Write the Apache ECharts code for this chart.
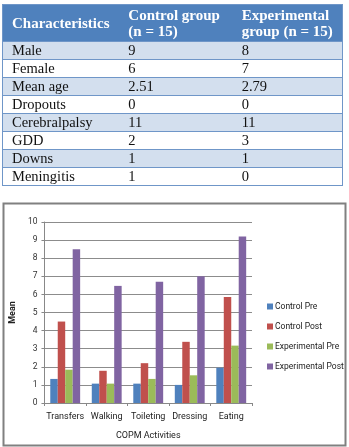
<!DOCTYPE html>
<html>
<head>
<meta charset="utf-8">
<script src="https://cdn.jsdelivr.net/npm/echarts@6/dist/echarts.min.js"></script>
<style>
  html, body { margin:0; padding:0; background:#fff; }
  #chart { position:absolute; left:0; top:0; width:349px; height:447px; }
  #tbl { position:absolute; left:2px; top:4px; width:341px; border-collapse:collapse;
         font-family:"Liberation Serif","Times New Roman",serif; font-size:14.5px; color:#111;
         border:1px solid #6f96c8; }
  #tbl th { background:#4f81bd; color:#fff; font-weight:bold; text-align:left; vertical-align:middle;
            font-size:15px; line-height:16px; padding:2px 0 2px 9px; height:32px; }
  #tbl td { height:17px; line-height:17px; padding:0 0 0 9px; border-top:1px solid #6f96c8; }
  #tbl tr.odd td { background:#d3dfee; }
</style>
</head>
<body>
<div id="chart"></div>
<table id="tbl"></table>
<script>
// Table data
var tableHeader = ["Characteristics", "Control group<br>(n = 15)", "Experimental<br>group (n = 15)"];
var tableRows = ["Male", "Female", "Mean age", "Dropouts", "Cerebralpalsy", "GDD", "Downs", "Meningitis"];
var controlGroup = ["9", "6", "2.51", "0", "11", "2", "1", "1"];
var experimentalGroup = ["8", "7", "2.79", "0", "11", "3", "1", "0"];

// Chart data
var categories = ["Transfers", "Walking", "Toileting", "Dressing", "Eating"];
var controlPre = [1.33, 1.07, 1.07, 1.0, 1.95];
var controlPost = [4.5, 1.78, 2.2, 3.38, 5.85];
var experimentalPre = [1.84, 1.07, 1.33, 1.53, 3.17];
var experimentalPost = [8.5, 6.47, 6.7, 7.0, 9.2];
var seriesNames = ["Control Pre", "Control Post", "Experimental Pre", "Experimental Post"];
var yTicks = [0, 1, 2, 3, 4, 5, 6, 7, 8, 9, 10];

// Build table
var tbl = document.getElementById('tbl');
var html = '<colgroup><col style="width:117px"><col style="width:114px"><col style="width:110px"></colgroup>';
html += '<tr>' + tableHeader.map(function(h){ return '<th>' + h + '</th>'; }).join('') + '</tr>';
for (var i = 0; i < tableRows.length; i++) {
  html += '<tr class="' + (i % 2 === 0 ? 'odd' : 'even') + '"><td>' + tableRows[i] + '</td><td>' +
          controlGroup[i] + '</td><td>' + experimentalGroup[i] + '</td></tr>';
}
tbl.innerHTML = html;

var chart = echarts.init(document.getElementById('chart'), null, {renderer: 'canvas'});
var colors = ['#4f81bd', '#c0504d', '#9bbb59', '#8064a2'];
var dataSets = [controlPre, controlPost, experimentalPre, experimentalPost];
var fontFam = 'Roboto, "Open Sans", sans-serif';

chart.setOption({
  animation: false,
  color: colors,
  graphic: [{
    type: 'rect', shape: { x: 3.5, y: 203.5, width: 342, height: 242 },
    style: { fill: 'none', stroke: '#808080', lineWidth: 2 }, z: -1
  }],
  grid: { left: 43, right: 97, top: 222, bottom: 44 },
  legend: {
    orient: 'vertical', left: 262, top: 297,
    itemWidth: 6, itemHeight: 6, itemGap: 11, icon: 'rect',
    textStyle: { fontSize: 8.5, fontFamily: fontFam, color: '#222', padding: [0, 0, 0, -3] },
    data: seriesNames
  },
  xAxis: {
    type: 'category', data: categories,
    name: 'COPM Activities', nameLocation: 'middle', nameGap: 28,
    nameTextStyle: { fontSize: 9, fontFamily: fontFam, color: '#222' },
    axisLine: { lineStyle: { color: '#888', width: 1 } },
    axisTick: { show: true, length: 3, lineStyle: { color: '#888' } },
    axisLabel: { interval: 0, fontSize: 9, fontFamily: fontFam, color: '#222', margin: 9 }
  },
  yAxis: {
    type: 'value', min: 0, max: 10, interval: 1,
    name: 'Mean', nameLocation: 'middle', nameGap: 22, nameRotate: 90,
    nameTextStyle: { fontSize: 9, fontWeight: 'bold', fontFamily: fontFam, color: '#222' },
    axisLine: { show: true, lineStyle: { color: '#888', width: 1 } },
    axisTick: { show: true, length: 3, lineStyle: { color: '#888' } },
    axisLabel: { fontSize: 8.5, fontFamily: fontFam, color: '#333', margin: 7,
                 formatter: function(v){ return yTicks.indexOf(v) >= 0 ? String(v) : ''; } },
    splitLine: { lineStyle: { color: '#8c8c8c', width: 1 } }
  },
  series: seriesNames.map(function(n, i){
    return { name: n, type: 'bar', data: dataSets[i], barGap: '0%', barCategoryGap: '28%' };
  })
});
</script>
</body>
</html>
